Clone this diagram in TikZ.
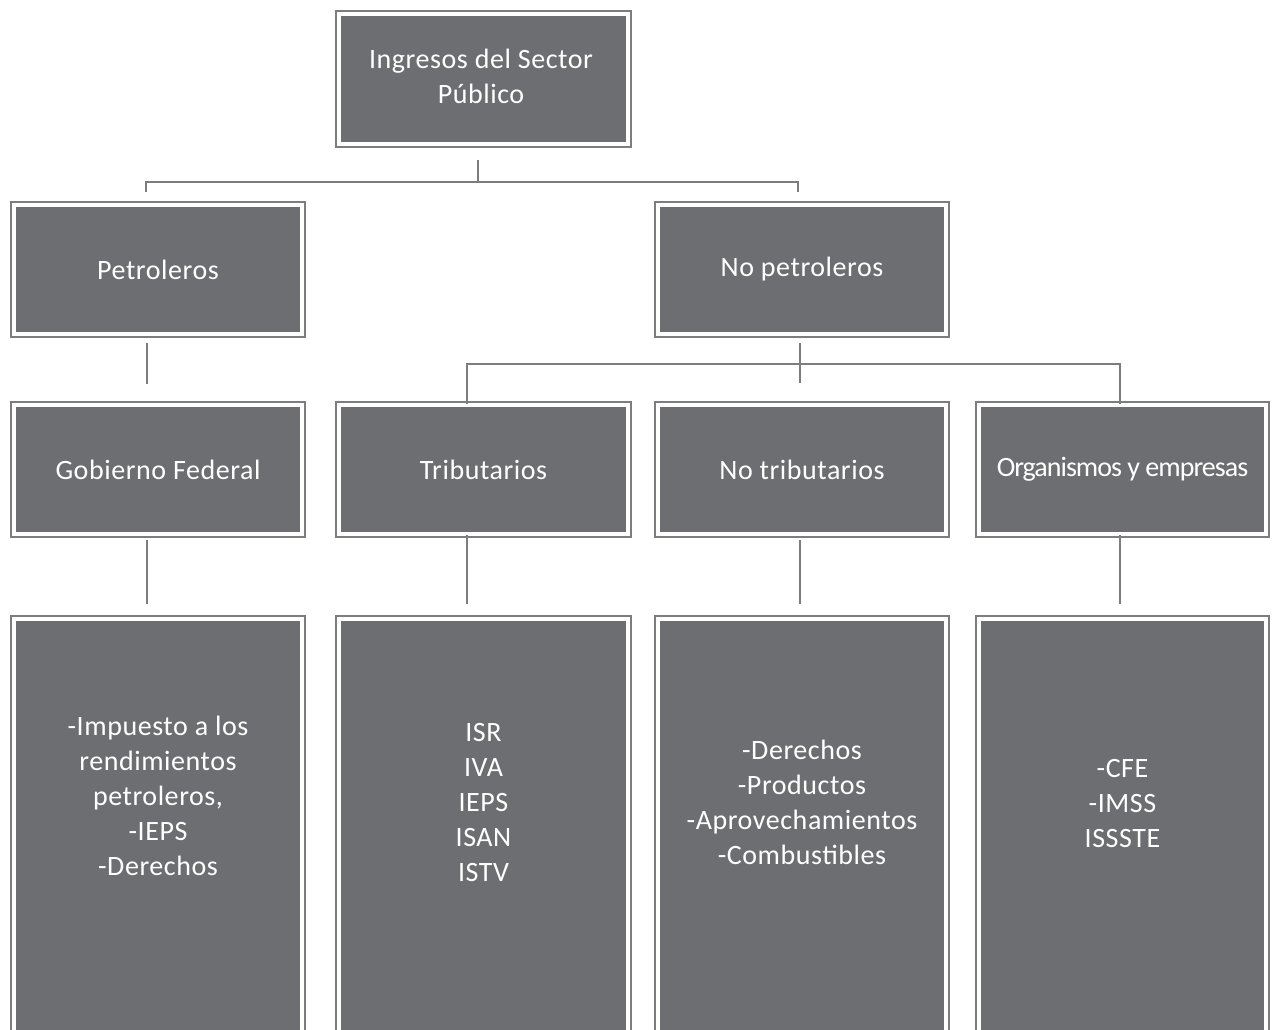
\documentclass[tikz,border=0pt]{standalone}
\usepackage{fontspec}
\setmainfont{Carlito}[LetterSpace=2]
\newfontfamily\condfont{Carlito}[LetterSpace=-3.5]
\definecolor{boxfill}{RGB}{109,110,113}
\definecolor{linec}{RGB}{125,125,127}
\begin{document}
\begin{tikzpicture}[x=1pt,y=-1pt,
  gbox/.style={draw=linec, line width=2pt, fill=white, inner sep=0pt, outer sep=0pt,
    text=white, align=center, font=\fontsize{28}{35}\selectfont,
    path picture={\fill[boxfill] ([shift={(5pt,5pt)}]path picture bounding box.south west)
      rectangle ([shift={(-5pt,-5pt)}]path picture bounding box.north east);}},
  txt/.style={text=white, align=center, font=\fontsize{28}{35}\selectfont, inner sep=0pt},
  conn/.style={draw=linec, line width=2pt}]
\useasboundingbox (0,0) rectangle (1272,1030);
\clip (0,0) rectangle (1272,1030);

% column x ranges: [10,306] [335,632] [654,950] [975,1270]
% top box
\node[gbox, minimum width=295pt, minimum height=136pt] (top) at (483.5,79) {};
\node[txt] (topT) at (481,76) {Ingresos del Sector\\Público};
% row 1
\node[gbox, minimum width=294pt, minimum height=135pt] (petro) at (158,269.5) {Petroleros};
\node[gbox, minimum width=294pt, minimum height=135pt] (nopetro) at (802,269.5) {No petroleros};
% row 2
\node[gbox, minimum width=294pt, minimum height=135pt] (gob) at (158,469.5) {Gobierno Federal};
\node[gbox, minimum width=295pt, minimum height=135pt] (trib) at (483.5,469.5) {Tributarios};
\node[gbox, minimum width=294pt, minimum height=135pt] (notrib) at (802,469.5) {No tributarios};
\node[gbox, minimum width=293pt, minimum height=135pt] (org) at (1122.5,469.5) {\condfont Organismos y empresas};
% row 3 (extends beyond bottom edge)
\node[gbox, minimum width=294pt, minimum height=450pt] (gobL) at (158,841) {};
\node[gbox, minimum width=295pt, minimum height=450pt] (tribL) at (483.5,841) {};
\node[gbox, minimum width=294pt, minimum height=450pt] (notribL) at (802,841) {};
\node[gbox, minimum width=293pt, minimum height=450pt] (orgL) at (1122.5,841) {};

\node[txt] (gobT) at (158,796) {-Impuesto a los\\rendimientos\\petroleros,\\-IEPS\\-Derechos};
\node[txt] (tribT) at (483.5,803) {ISR\\IVA\\IEPS\\ISAN\\ISTV};
\node[txt] (notribT) at (802,802.5) {-Derechos\\-Productos\\-Aprovechamientos\\-Combustibles};
\node[txt] (orgT) at (1122.5,804) {-CFE\\-IMSS\\ISSSTE};

% connectors from top
\coordinate (t0) at (478,160);
\coordinate (j1) at (478,182);
\coordinate (pa) at (146,192);
\coordinate (na) at (798,192);
\draw[conn] (t0) -- (j1);
\draw[conn] (pa) |- (j1) -| (na);

% Petroleros -> Gobierno Federal
\coordinate (p1) at (147,343);
\coordinate (p2) at (147,384);
\draw[conn] (p1) -- (p2);

% No petroleros -> three children
\coordinate (n1) at (800,343);
\coordinate (n2) at (800,383);
\coordinate (j2) at (800,364);
\coordinate (ta) at (467,404);
\coordinate (oa) at (1120,404);
\draw[conn] (n1) -- (n2);
\draw[conn] (ta) |- (j2) -| (oa);

% row 2 -> row 3
\coordinate (g1) at (147,540);
\coordinate (g2) at (147,604);
\coordinate (r1) at (467,535);
\coordinate (r2) at (467,604);
\coordinate (s1) at (800,540);
\coordinate (s2) at (800,604);
\coordinate (o1) at (1120,535);
\coordinate (o2) at (1120,604);
\draw[conn] (g1) -- (g2);
\draw[conn] (r1) -- (r2);
\draw[conn] (s1) -- (s2);
\draw[conn] (o1) -- (o2);
\end{tikzpicture}
\end{document}
